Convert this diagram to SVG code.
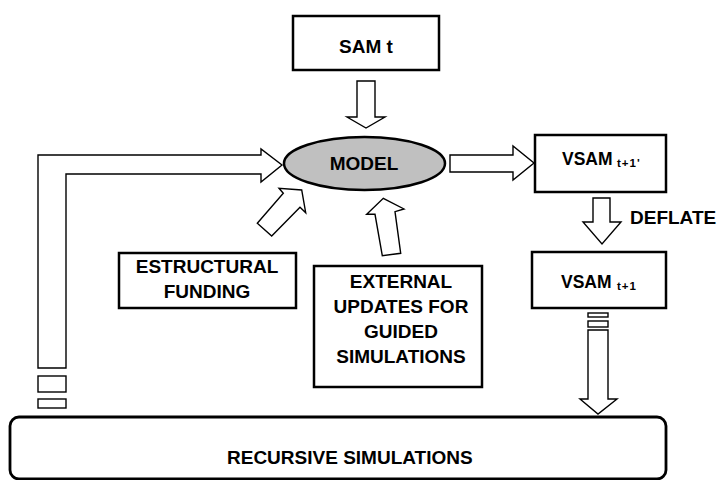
<svg xmlns="http://www.w3.org/2000/svg" width="718" height="480" viewBox="0 0 718 480">
<style>
.box{fill:#fff;stroke:#000;stroke-width:2.5}
.arr{fill:#fff;stroke:#000;stroke-width:1.4;stroke-linejoin:miter}
.t{font-family:"Liberation Sans",Arial,sans-serif;font-weight:bold;font-size:19px;fill:#000}
.v{font-size:17.5px}
.s{font-family:"Liberation Sans",Arial,sans-serif;font-weight:bold;font-size:11.5px;fill:#000}
.m{text-anchor:middle}
</style>
<rect width="718" height="480" fill="#fff"/>
<g id="connectors">
<polygon class="arr" points="38,368 38,155 261,155 261,149 282,165 261,182 261,174 66,174 66,368"/>
<rect class="arr" x="38" y="376" width="28" height="16"/>
<rect class="arr" x="38" y="399" width="28" height="9"/>
<polygon class="arr" points="357,81 375,81 375,117 385,117 366,128 347,117 357,117"/>
<polygon class="arr" points="450,155 513,155 513,146 534,163 513,180 513,172 450,172"/>
<polygon class="arr" points="593,198 610,198 610,222 621,222 602,244 583,222 593,222"/>
<polygon class="arr" points="283.3,193.3 279,188.3 301.7,190 305.7,212.7 300,207.3 271.7,236 257.3,223.3"/>
<polygon class="arr" points="375,214.3 366.7,214.3 383.3,198.3 404,209 395,211.7 400.7,253.3 382.3,255.7"/>
<rect class="arr" x="588" y="313" width="20" height="4"/>
<rect class="arr" x="588" y="321" width="20" height="6"/>
<polygon class="arr" points="588,330 608,330 608,399 617,399 598,414 580,399 588,399"/>
</g>
<g id="sam">
<rect class="box" x="293" y="16" width="146" height="54"/>
<text class="t m" x="366" y="53">SAM t</text>
</g>
<g id="model">
<ellipse cx="364.5" cy="163.5" rx="80.5" ry="26.5" fill="#c0c0c0" stroke="#000" stroke-width="2.5"/>
<text class="t m" x="364" y="170">MODEL</text>
</g>
<g id="vsam1p">
<rect class="box" x="535" y="135" width="131" height="57"/>
<text class="t v" x="562" y="165">VSAM</text>
<text class="s" x="617" y="167" letter-spacing="1">t+1'</text>
</g>
<g id="deflate">
<text class="t" x="630" y="224">DEFLATE</text>
</g>
<g id="vsam1">
<rect class="box" x="532" y="252" width="134" height="56"/>
<text class="t v" x="561" y="288">VSAM</text>
<text class="s" x="617" y="290" letter-spacing="1">t+1</text>
</g>
<g id="funding">
<rect class="box" x="119" y="253" width="177" height="55"/>
<text class="t m" x="207" y="273">ESTRUCTURAL</text>
<text class="t m" x="207" y="298">FUNDING</text>
</g>
<g id="external">
<rect class="box" x="314" y="266" width="168" height="121"/>
<text class="t m" x="401" y="288">EXTERNAL</text>
<text class="t m" x="401" y="313">UPDATES FOR</text>
<text class="t m" x="401" y="338">GUIDED</text>
<text class="t m" x="401" y="363">SIMULATIONS</text>
</g>
<g id="recursive">
<rect x="10" y="417" width="656" height="62" rx="9" fill="#fff" stroke="#000" stroke-width="2.8"/>
<text class="t" x="227" y="464">RECURSIVE SIMULATIONS</text>
</g>
</svg>
